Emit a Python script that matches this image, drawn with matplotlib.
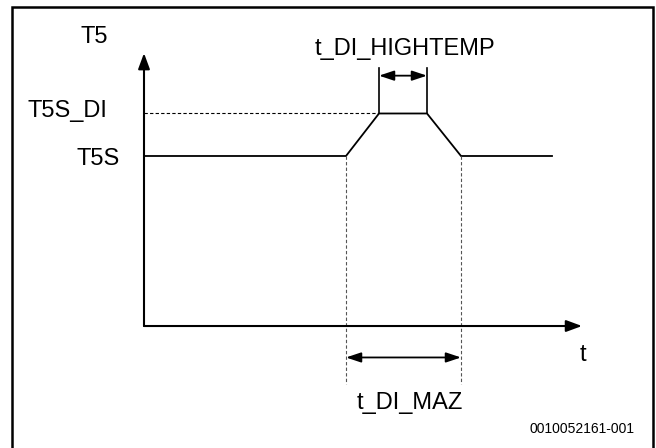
import matplotlib.pyplot as plt
from matplotlib.patches import Rectangle

# schematic values (time in arbitrary units, temperature levels in arbitrary units)
t_profile = [0, 20.2, 23.5, 28.3, 31.7, 40.8]
T_profile = [40, 40, 50, 50, 40, 40]
T5S, T5S_DI = 40, 50
t_axis_end, T_axis_end = 43.8, 64.2
level_labels = ['T5S', 'T5S_DI']
id_text = '0010052161-001'

plt.rcParams['font.family'] = ['Liberation Sans', 'DejaVu Sans']

fig = plt.figure(figsize=(6.56, 4.48), dpi=100)
ax = fig.add_axes([0, 0, 1, 1])
ax.set_xlim(-14.4, 51.2)
ax.set_ylim(-28.7, 76.7)
ax.axis('off')

# outer frame (bottom runs off the image)
ax.add_patch(Rectangle((-13.2, -40), 64.1, 115.1, fill=False, lw=1.8, ec='black'))

# axes with arrows
arr = dict(arrowstyle='-|>,head_length=0.95,head_width=0.35', color='black', lw=1.5, shrinkA=0, shrinkB=0)
ax.annotate('', xy=(0, T_axis_end), xytext=(0, 0), arrowprops=arr)
ax.annotate('', xy=(t_axis_end, 0), xytext=(0, 0), arrowprops=arr)

# temperature profile
ax.plot(t_profile, T_profile, color='black', lw=1.3, solid_joinstyle='miter')

# dashed reference for T5S_DI
ax.plot([0, t_profile[2]], [T5S_DI, T5S_DI], color='black', lw=0.8, ls=(0, (3, 2)))

# dashed verticals for t_DI_MAZ
for tx in (t_profile[1], t_profile[4]):
    ax.plot([tx, tx], [T5S, -13.6], color='#555555', lw=0.8, ls=(0, (3, 2)))

# verticals for t_DI_HIGHTEMP
for tx in (t_profile[2], t_profile[3]):
    ax.plot([tx, tx], [T5S_DI, 60.6], color='black', lw=1.2)

darr = dict(arrowstyle='<|-|>,head_length=0.9,head_width=0.3', color='black', lw=1.3, shrinkA=0, shrinkB=0)
ax.annotate('', xy=(t_profile[3], 58.9), xytext=(t_profile[2], 58.9), arrowprops=darr)
ax.annotate('', xy=(t_profile[4], -7.4), xytext=(t_profile[1], -7.4), arrowprops=darr)

# labels
fs = 17
ax.text(-5.0, 66.6, 'T5', fontsize=fs, ha='center', va='baseline')
ax.text(-3.7, 49.2, level_labels[1], fontsize=fs, ha='right', va='baseline')
ax.text(-2.4, 37.9, level_labels[0], fontsize=fs, ha='right', va='baseline')
ax.text(26.1, 63.8, 't_DI_HIGHTEMP', fontsize=fs, ha='center', va='baseline')
ax.text(43.9, -8.2, 't', fontsize=fs, ha='center', va='baseline')
ax.text(26.6, -19.5, 't_DI_MAZ', fontsize=fs, ha='center', va='baseline')
ax.text(49.1, -25.2, id_text, fontsize=10, ha='right', va='baseline')

fig.savefig('out.png', dpi=100)
